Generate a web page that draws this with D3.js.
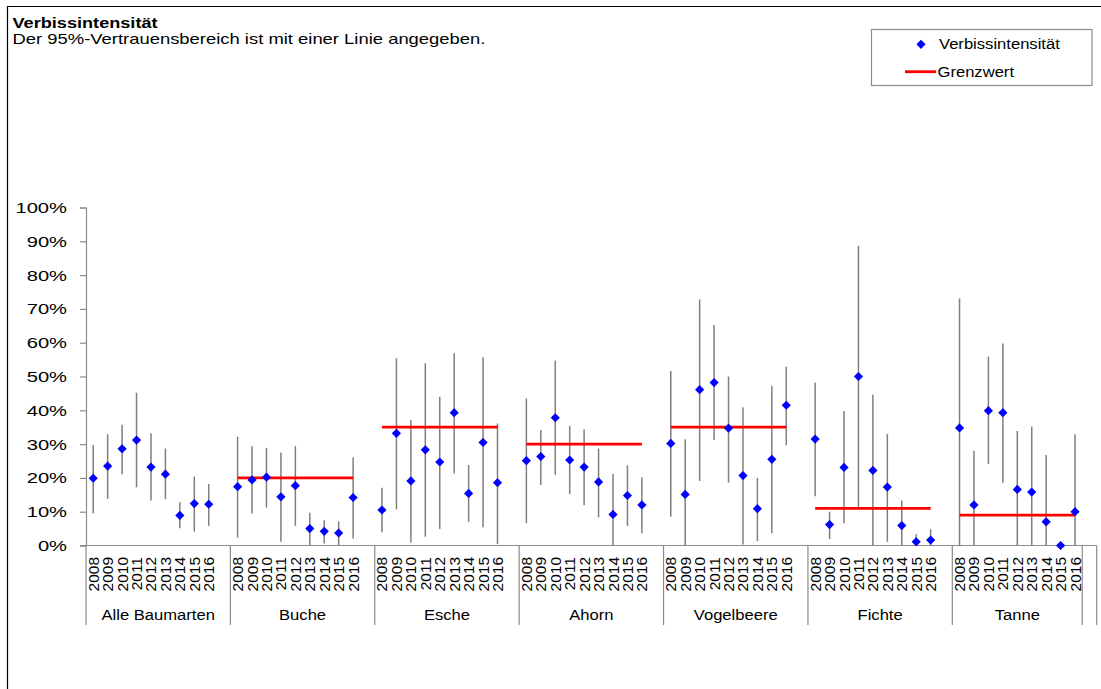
<!DOCTYPE html>
<html>
<head>
    <meta charset='utf-8'>
    <script src='https://d3js.org/d3.v7.min.js'></script>
    <title>Verbissintensität</title>
</head>
<body>
<style>
    body {
        margin: 0;
        font-family: "Liberation Sans", Arial, Helvetica, sans-serif;
    }
    text { fill: #000; }
    .bar { stroke: #7f7f7f; stroke-width: 1.5; }
    .sep { stroke: #8c8c8c; stroke-width: 1.2; }
</style>
<div id='chart'></div>
<script>

    var groups = ['Alle Baumarten', 'Buche', 'Esche', 'Ahorn', 'Vogelbeere', 'Fichte', 'Tanne'];
    var years = ['2008', '2009', '2010', '2011', '2012', '2013', '2014', '2015', '2016'];
    var yTicks = [0, 10, 20, 30, 40, 50, 60, 70, 80, 90, 100];

    // Verbissintensität in %, one row per group, 2008..2016
    var intensity = [
        [19.9, 23.5, 28.6, 31.2, 23.2, 21.1, 8.9, 12.4, 12.2],
        [17.4, 19.4, 20.2, 14.4, 17.7, 5.0, 4.2, 3.7, 14.2],
        [10.5, 33.2, 19.1, 28.3, 24.7, 39.3, 15.4, 30.5, 18.6],
        [25.1, 26.3, 37.8, 25.3, 23.2, 18.8, 9.2, 14.8, 12.0],
        [30.2, 15.1, 46.1, 48.2, 34.7, 20.7, 10.9, 25.5, 41.5],
        [31.5, 6.2, 23.1, 50.0, 22.2, 17.3, 5.9, 1.1, 1.6],
        [34.8, 12.0, 39.9, 39.3, 16.6, 15.8, 7.0, 0.0, 10.0]
    ];
    // 95%-Vertrauensbereich
    var lower = [
        [9.5, 13.8, 21.1, 17.2, 13.3, 13.7, 5.1, 4.1, 5.8],
        [2.3, 9.5, 11.2, 1.1, 5.8, 0, 0.6, 0, 2.1],
        [3.9, 10.7, 0.9, 2.6, 4.9, 21.3, 7.0, 5.4, 0.4],
        [6.6, 17.9, 20.9, 15.2, 11.9, 8.3, 0, 5.8, 3.6],
        [8.5, 0, 19.1, 31.2, 18.6, 0.3, 1.3, 3.6, 29.7],
        [14.6, 1.9, 6.6, 11.2, 0, 1.1, 0, 0, 0],
        [0, 0, 24.1, 18.6, 0, 0, 0, 0, 0]
    ];
    var upper = [
        [29.7, 32.9, 35.7, 45.2, 33.2, 28.7, 12.8, 20.4, 18.2],
        [32.2, 29.4, 28.9, 27.5, 29.4, 9.7, 7.5, 7.1, 26.0],
        [17.1, 55.4, 37.1, 53.9, 44.0, 56.9, 23.8, 55.7, 36.1],
        [43.5, 34.2, 54.7, 35.4, 34.4, 28.7, 21.2, 23.7, 20.2],
        [51.6, 31.4, 72.8, 65.2, 50.0, 40.9, 20.0, 47.3, 52.9],
        [48.2, 10.0, 39.8, 88.7, 44.6, 33.0, 13.3, 3.3, 4.8],
        [73.1, 28.0, 55.9, 59.8, 33.9, 35.2, 26.8, 0.0, 32.9]
    ];
    var grenzwert = [null, 20, 35, 30, 35, 11, 9];

    var W = 1101, H = 689;
    var svg = d3.select('#chart').append('svg')
        .attr('width', W)
        .attr('height', H);

    var diamond = 'M0,-4.6L4.6,0L0,4.6L-4.6,0Z';

    // stretch text along its direction, the original is rendered wide
    function stretch(sel, k) {
        sel.each(function() {
            var w = this.getComputedTextLength();
            d3.select(this).attr('textLength', w * k).attr('lengthAdjust', 'spacingAndGlyphs');
        });
    }

    // frame
    svg.append('path')
        .attr('d', 'M7.5,' + H + 'V6.5H' + W)
        .attr('fill', 'none')
        .attr('stroke', '#000')
        .attr('stroke-width', 1.2);

    svg.append('text').attr('x', 12.5).attr('y', 28.3)
        .attr('font-size', 14.5).attr('font-weight', 'bold')
        .text('Verbissintensität').call(stretch, 1.25);
    svg.append('text').attr('x', 12.5).attr('y', 43.5)
        .attr('font-size', 14.5)
        .text('Der 95%-Vertrauensbereich ist mit einer Linie angegeben.').call(stretch, 1.27);

    // slots: 10 per group (9 years + gap), last group without gap, plus one empty slot
    var slots = [];
    groups.forEach(function(g, gi) {
        years.forEach(function(y) { slots.push(g + '|' + y); });
        slots.push(g + '|gap');
    });

    var x = d3.scaleBand().domain(slots).range([86, 1096.7]).padding(0);
    var y = d3.scaleLinear().domain([0, 100]).range([545.5, 207.5]);
    var bw = x.bandwidth();
    function cx(gi, yi) { return x(groups[gi] + '|' + years[yi]) + bw / 2; }

    // y axis
    var yAxis = svg.append('g').attr('transform', 'translate(86,0)')
        .call(d3.axisLeft(y).tickValues(yTicks).tickSize(6).tickPadding(13)
            .tickFormat(function(d) { return d + '%'; }));
    yAxis.select('.domain').attr('stroke', '#8c8c8c').attr('stroke-width', 1.2);
    yAxis.selectAll('.tick line').attr('stroke', '#8c8c8c').attr('stroke-width', 1.2);
    yAxis.selectAll('.tick text')
        .attr('font-size', 15.5).attr('fill', '#000')
        .attr('font-family', '"Liberation Sans", Arial, sans-serif')
        .call(stretch, 1.3);

    // x axis line and group separators
    svg.append('line').attr('class', 'sep')
        .attr('x1', 80).attr('x2', x.range()[1])
        .attr('y1', y(0)).attr('y2', y(0));

    var bounds = groups.map(function(g, gi) { return x(g + '|2008'); });
    bounds.push(x(groups[6] + '|gap'));
    bounds.push(x.range()[1]);
    svg.selectAll('.sep-v').data(bounds).enter().append('line')
        .attr('class', 'sep')
        .attr('x1', function(d) { return d; }).attr('x2', function(d) { return d; })
        .attr('y1', y(0)).attr('y2', 625);

    groups.forEach(function(g, gi) {
        var gx = svg.append('g');
        gx.selectAll('text.yr').data(years).enter().append('text')
            .attr('transform', function(d, yi) { return 'translate(' + cx(gi, yi) + ',557) rotate(-90)'; })
            .attr('text-anchor', 'end')
            .attr('dominant-baseline', 'central')
            .attr('font-size', 15.5)
            .text(function(d) { return d; });

        var left = bounds[gi];
        var right = gi < 6 ? bounds[gi + 1] : bounds[7];
        gx.append('text')
            .attr('x', (left + right) / 2).attr('y', 620)
            .attr('text-anchor', 'middle')
            .attr('font-size', 15.5)
            .text(g).call(stretch, 1.07);

        // error bars
        gx.selectAll('line.bar').data(years).enter().append('line')
            .attr('class', 'bar')
            .attr('x1', function(d, yi) { return cx(gi, yi); })
            .attr('x2', function(d, yi) { return cx(gi, yi); })
            .attr('y1', function(d, yi) { return y(lower[gi][yi]); })
            .attr('y2', function(d, yi) { return y(upper[gi][yi]); });

        if (grenzwert[gi] != null) {
            gx.append('line')
                .attr('x1', cx(gi, 0)).attr('x2', cx(gi, 8))
                .attr('y1', y(grenzwert[gi])).attr('y2', y(grenzwert[gi]))
                .attr('stroke', '#ff0000').attr('stroke-width', 2.8);
        }

        gx.selectAll('path.pt').data(years).enter().append('path')
            .attr('d', diamond)
            .attr('fill', '#0000ff')
            .attr('transform', function(d, yi) {
                return 'translate(' + cx(gi, yi) + ',' + y(intensity[gi][yi]) + ')';
            });
    });

    // legend
    var lg = svg.append('g');
    lg.append('rect').attr('x', 871.5).attr('y', 29.5).attr('width', 220.5).attr('height', 56)
        .attr('fill', '#fff').attr('stroke', '#8c8c8c').attr('stroke-width', 1.2);
    lg.append('path').attr('d', diamond).attr('fill', '#0000ff')
        .attr('transform', 'translate(921,44.3)');
    lg.append('text').attr('x', 939).attr('y', 49.3).attr('font-size', 15.5)
        .text('Verbissintensität').call(stretch, 1.07);
    lg.append('line').attr('x1', 905).attr('x2', 936).attr('y1', 71.7).attr('y2', 71.7)
        .attr('stroke', '#ff0000').attr('stroke-width', 2.8);
    lg.append('text').attr('x', 937.5).attr('y', 77).attr('font-size', 15.5)
        .text('Grenzwert').call(stretch, 1.07);

</script>
</body>
</html>
